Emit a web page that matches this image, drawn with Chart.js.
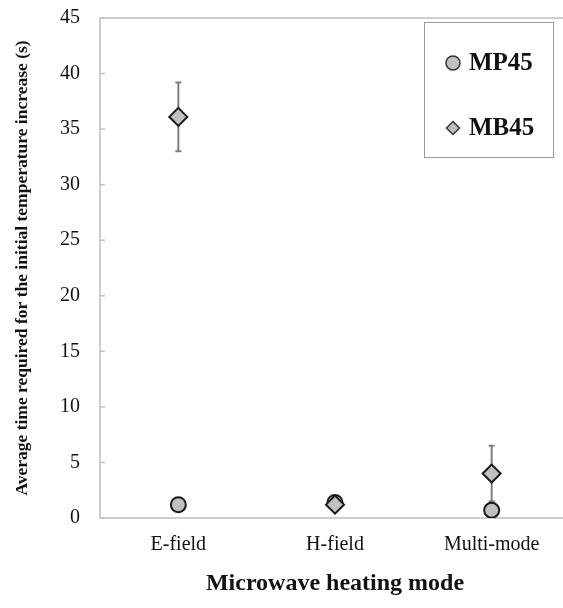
<!DOCTYPE html>
<html>
<head>
<meta charset="utf-8">
<script src="https://cdn.jsdelivr.net/npm/chart.js@4.4.0/dist/chart.umd.min.js"></script>
<style>
  html, body { margin: 0; padding: 0; background: #fff; overflow: hidden; }
  #wrap { width: 563px; height: 608px; overflow: hidden; }
</style>
</head>
<body>
<div id="wrap"><canvas id="scatter-chart" width="572" height="608"></canvas></div>
<script>
// values
var categories = ["E-field", "H-field", "Multi-mode"];
var mp45 = [1.2, 1.4, 0.7];
var mp45Err = [0.6, 0.4, 0.3];
var mb45 = [36.1, 1.2, 4.0];
var mb45Err = [3.1, 0.6, 2.5];
var yTicks = [0, 5, 10, 15, 20, 25, 30, 35, 40, 45];

var serif = "'Liberation Serif', 'Times New Roman', serif";
var axisGray = "#bfbfbf";

// error bars, chart frame and inside y tick marks
var extras = {
  id: "extras",
  beforeDatasetsDraw: function (chart) {
    var ctx = chart.ctx, x = chart.scales.x, y = chart.scales.y, a = chart.chartArea;
    ctx.save();
    // frame
    ctx.strokeStyle = axisGray;
    ctx.lineWidth = 1.5;
    ctx.strokeRect(a.left, a.top, a.right - a.left, a.bottom - a.top);
    // inside ticks
    yTicks.forEach(function (v) {
      var py = y.getPixelForValue(v);
      ctx.beginPath();
      ctx.moveTo(a.left, py);
      ctx.lineTo(a.left + 5, py);
      ctx.stroke();
    });
    // error bars
    ctx.strokeStyle = "#7f7f7f";
    ctx.lineWidth = 2;
    chart.data.datasets.forEach(function (ds) {
      ds.data.forEach(function (v, i) {
        var px = x.getPixelForValue(i);
        var top = y.getPixelForValue(v + ds.errors[i]);
        var bot = y.getPixelForValue(v - ds.errors[i]);
        ctx.beginPath();
        ctx.moveTo(px, top); ctx.lineTo(px, bot);
        ctx.moveTo(px - 3, top); ctx.lineTo(px + 3, top);
        ctx.moveTo(px - 3, bot); ctx.lineTo(px + 3, bot);
        ctx.stroke();
      });
    });
    ctx.restore();
  },
  afterDraw: function (chart) {
    var ctx = chart.ctx, a = chart.chartArea;
    var bx = a.left + 324, by = a.top + 4, bw = 129, bh = 135;
    ctx.save();
    ctx.fillStyle = "#fff";
    ctx.fillRect(bx, by, bw, bh);
    ctx.strokeStyle = "#9a9a9a";
    ctx.lineWidth = 1;
    ctx.strokeRect(bx + 0.5, by + 0.5, bw, bh);
    ctx.font = "bold 25px " + serif;
    ctx.textBaseline = "middle";
    var rows = [chart.data.datasets[1], chart.data.datasets[0]];
    rows.forEach(function (ds, k) {
      var cx = bx + 29, cy = by + 41 + k * 65;
      ctx.fillStyle = ds.backgroundColor;
      ctx.strokeStyle = "#333";
      ctx.lineWidth = 1.5;
      ctx.beginPath();
      if (ds.pointStyle === "circle") {
        ctx.arc(cx, cy, 7, 0, Math.PI * 2);
      } else {
        ctx.moveTo(cx - 6.5, cy); ctx.lineTo(cx, cy - 6.5);
        ctx.lineTo(cx + 6.5, cy); ctx.lineTo(cx, cy + 6.5);
        ctx.closePath();
      }
      ctx.fill(); ctx.stroke();
      ctx.fillStyle = "#111";
      ctx.fillText(ds.label, bx + 45, cy + 1);
    });
    ctx.restore();
  }
};

new Chart(document.getElementById("scatter-chart"), {
  type: "line",
  data: {
    labels: categories,
    datasets: [
      {
        label: "MB45",
        data: mb45,
        errors: mb45Err,
        order: 1,
        showLine: false,
        pointStyle: "rectRot",
        pointRadius: 9,
        pointBorderWidth: 2,
        backgroundColor: "#c0c0c0",
        borderColor: "#1a1a1a"
      },
      {
        label: "MP45",
        data: mp45,
        errors: mp45Err,
        order: 2,
        showLine: false,
        pointStyle: "circle",
        pointRadius: 7.5,
        pointBorderWidth: 2,
        backgroundColor: "#c0c0c0",
        borderColor: "#1a1a1a"
      }
    ]
  },
  options: {
    responsive: false,
    animation: false,
    layout: { autoPadding: false, padding: { top: 18, right: 2, left: 0, bottom: 0 } },
    plugins: { legend: { display: false }, tooltip: { enabled: false } },
    elements: { point: { hoverRadius: 8 } },
    scales: {
      x: {
        type: "category",
        offset: true,
        grid: { display: false, drawTicks: false },
        border: { display: false },
        ticks: { color: "#111", padding: 15, font: { family: serif, size: 20 } },
        title: {
          display: true,
          text: "Microwave heating mode",
          color: "#111",
          font: { family: serif, size: 24, weight: "bold" },
          padding: { top: 10, bottom: 10 }
        },
        afterFit: function (s) { s.height = 90; s.paddingLeft = 0; s.paddingRight = 0; }
      },
      y: {
        min: 0,
        max: 45,
        afterBuildTicks: function (s) { s.ticks = yTicks.map(function (v) { return { value: v }; }); },
        grid: { display: false, drawTicks: false },
        border: { display: false },
        ticks: { color: "#111", padding: 20, font: { family: serif, size: 20 } },
        title: {
          display: true,
          text: "Average time required for the initial temperature increase (s)",
          color: "#111",
          font: { family: serif, size: 17.5, weight: "bold" },
          padding: { top: 12, bottom: 0 }
        },
        afterFit: function (s) { s.width = 100; s.paddingTop = 0; s.paddingBottom = 0; }
      }
    }
  },
  plugins: [extras]
});
</script>
</body>
</html>
